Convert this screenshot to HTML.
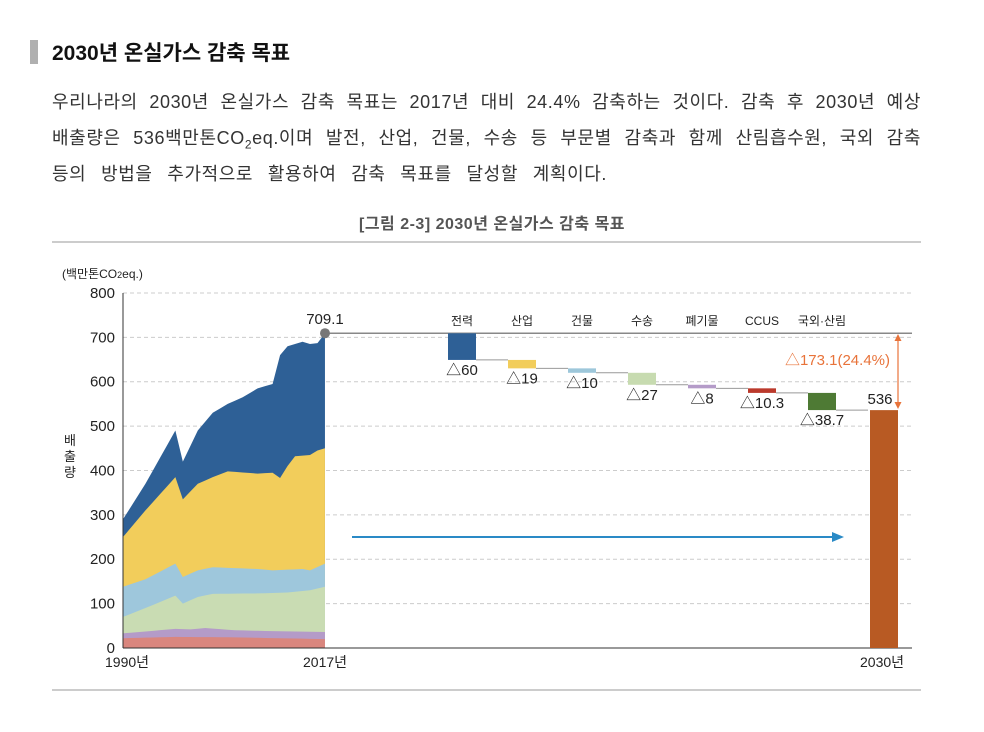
<!DOCTYPE html>
<html><head><meta charset="utf-8"><style>
body{margin:0;width:984px;height:732px;background:#fff;font-family:"Liberation Sans","Noto Sans CJK KR",sans-serif;color:#222;position:relative;overflow:hidden}
.bar{position:absolute;left:30px;top:40px;width:8px;height:24px;background:#b0b0b0}
.title{position:absolute;left:52px;top:37px;font-size:21px;font-weight:bold;color:#111}
.p{position:absolute;left:52px;width:869px;font-size:18px;letter-spacing:0.6px;text-align:justify;text-align-last:justify;white-space:nowrap;color:#333}
.cap{position:absolute;left:0;width:984px;top:210px;text-align:center;font-size:16px;font-weight:bold;color:#555;letter-spacing:0.5px}
</style></head><body>
<div class="bar"></div>
<div class="title">2030년 온실가스 감축 목표</div>
<div class="p" style="top:88px">우리나라의 2030년 온실가스 감축 목표는 2017년 대비 24.4% 감축하는 것이다. 감축 후 2030년 예상</div>
<div class="p" style="top:124px">배출량은 536백만톤CO<sub style="font-size:12px">2</sub>eq.이며 발전, 산업, 건물, 수송 등 부문별 감축과 함께 산림흡수원, 국외 감축</div>
<div class="p" style="top:160px;width:555px">등의 방법을 추가적으로 활용하여 감축 목표를 달성할 계획이다.</div>
<div class="cap">[그림 2-3] 2030년 온실가스 감축 목표</div>
<svg id="s" width="984" height="732" style="position:absolute;left:0;top:0" font-family="Liberation Sans, Noto Sans CJK KR, sans-serif">
<line x1="52" y1="242" x2="921" y2="242" stroke="#999"/>
<line x1="52" y1="690" x2="921" y2="690" stroke="#999"/>
<g id="grid"></g>
<g id="areas"></g>
<line x1="123" y1="293" x2="123" y2="648" stroke="#333"/>
<line x1="123" y1="648" x2="912" y2="648" stroke="#333"/>
<text x="62" y="278" font-size="12" fill="#222">(백만톤CO<tspan font-size="9">2</tspan>eq.)</text>
<g id="ylab" font-size="15" fill="#222" text-anchor="end"></g>
<text x="70" y="445" font-size="13" fill="#222" text-anchor="middle">배</text>
<text x="70" y="461" font-size="13" fill="#222" text-anchor="middle">출</text>
<text x="70" y="477" font-size="13" fill="#222" text-anchor="middle">량</text>
<text x="105" y="667" font-size="14" fill="#222">1990년</text>
<text x="303" y="667" font-size="14" fill="#222">2017년</text>
<text x="860" y="667" font-size="14" fill="#222">2030년</text>
<line x1="325" y1="333.2" x2="912" y2="333.2" stroke="#888" stroke-width="1.5"/>
<circle cx="325" cy="333.2" r="5" fill="#777"/>
<text x="325" y="324" font-size="15" fill="#222" text-anchor="middle">709.1</text>
<g id="wf"></g>
<line x1="352" y1="537" x2="835" y2="537" stroke="#2a8ac6" stroke-width="2"/>
<polygon points="844,537 832,532 832,542" fill="#2a8ac6"/>
<line x1="898" y1="340" x2="898" y2="403" stroke="#e8733a" stroke-width="1.2"/>
<polygon points="898,334 894.5,341 901.5,341" fill="#e8733a"/>
<polygon points="898,409 894.5,402 901.5,402" fill="#e8733a"/>
<text x="890" y="365" font-size="15" fill="#e8733a" text-anchor="end">△173.1(24.4%)</text>
<text x="880" y="404" font-size="15" fill="#222" text-anchor="middle">536</text>
</svg>
<script>
var Y=function(v){return 648-v*0.4438};var X=function(yr){return 123+(yr-1990)*7.48};
var ns="http://www.w3.org/2000/svg";
function el(p,t,a){var e=document.createElementNS(ns,t);for(var k in a)e.setAttribute(k,a[k]);if(a.txt){e.textContent=a.txt;e.removeAttribute('txt')}document.getElementById(p).appendChild(e);return e}
for(var v=0;v<=800;v+=100){if(v>0)el('grid','line',{x1:123,x2:912,y1:Y(v),y2:Y(v),stroke:'#ccc','stroke-dasharray':'4,3'});el('ylab','text',{x:115,y:Y(v)+5,txt:''+v});}
function interp(pts){var o=[];for(var yr=1990;yr<=2017;yr++){for(var i=0;i<pts.length-1;i++){if(yr>=pts[i][0]&&yr<=pts[i+1][0]){var t=(yr-pts[i][0])/(pts[i+1][0]-pts[i][0]);o.push(pts[i][1]+t*(pts[i+1][1]-pts[i][1]));break;}}}return o}
var L=[
[[1990,290],[1993,370],[1997,490],[1998,420],[2000,490],[2002,530],[2004,550],[2006,565],[2008,585],[2010,595],[2011,660],[2012,680],[2014,690],[2015,685],[2016,687],[2017,709]],
[[1990,250],[1993,310],[1997,385],[1998,335],[2000,370],[2002,385],[2004,398],[2008,393],[2010,395],[2011,383],[2012,410],[2013,432],[2015,435],[2016,445],[2017,450]],
[[1990,138],[1993,155],[1997,190],[1998,160],[2000,175],[2002,182],[2008,178],[2010,175],[2014,178],[2015,175],[2017,190]],
[[1990,70],[1993,90],[1997,118],[1998,100],[2000,115],[2002,122],[2008,123],[2012,125],[2015,130],[2017,138]],
[[1990,33],[1997,43],[1999,42],[2001,45],[2005,40],[2010,38],[2017,36]],
[[1990,22],[1997,25],[2005,24],[2017,20]]];
var C=['#2e6096','#f2cd5b','#9ec7dc','#c9dcb3','#b49bc8','#d9867e'];
for(var j=0;j<L.length;j++){var v=interp(L[j]);var d='M123,648';for(var i=0;i<v.length;i++)d+=' L'+X(1990+i)+','+Y(v[i]);d+=' L'+X(2017)+',648Z';el('areas','path',{d:d,fill:C[j]});}
var W=[['전력',60,'#2e6096','△60'],['산업',19,'#f2cd5b','△19'],['건물',10,'#9dc7da','△10'],['수송',27,'#c7dbb0','△27'],['폐기물',8,'#b49bc8','△8'],['CCUS',10.3,'#bb3a2c','△10.3'],['국외·산림',38.7,'#4e7a34','△38.7']];
var cur=709.1;
for(var i=0;i<W.length;i++){var x=448+i*60,n=cur-W[i][1];
el('wf','rect',{x:x,y:Y(cur),width:28,height:Y(n)-Y(cur),fill:W[i][2]});
el('wf','line',{x1:x+28,x2:x+60,y1:Y(n),y2:Y(n),stroke:'#999'});
el('wf','text',{x:x+14,y:Y(n)+15,'font-size':15,fill:'#222','text-anchor':'middle',txt:W[i][3]});
el('wf','text',{x:x+14,y:325,'font-size':12,fill:'#222','text-anchor':'middle',txt:W[i][0]});
cur=n;}
el('wf','rect',{x:870,y:Y(536),width:28,height:648-Y(536),fill:'#b85a23'});
</script>
</body></html>
